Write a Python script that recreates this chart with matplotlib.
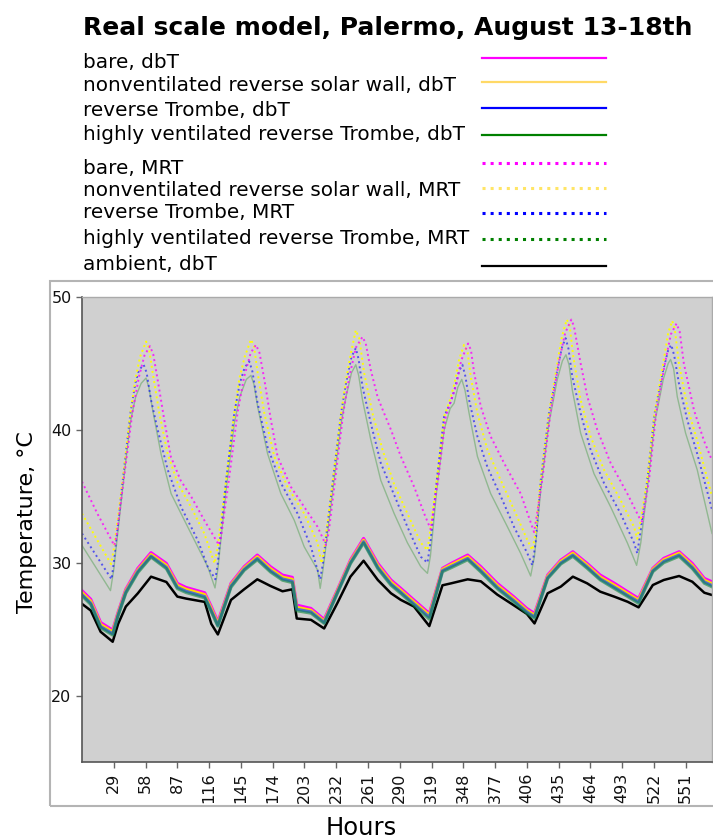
import matplotlib
matplotlib.use("Agg")
import matplotlib.pyplot as plt
from matplotlib.lines import Line2D
from matplotlib.patches import Rectangle

plt.rcParams['font.family'] = ['DejaVu Sans']

# ---------------- data ----------------
title = "Real scale model, Palermo, August 13-18th"
xlabel = "Hours"
ylabel = "Temperature, °C"
xtick_values = list(range(29, 575, 29))
ytick_values = [20, 30, 40, 50]

# dry-bulb temperatures (shared key hours)
hours_dbt = [0, 8, 17, 28, 33, 40, 51, 63, 77, 87, 95, 112, 118, 124, 136, 148, 160, 172, 183, 192,
             196, 209, 221, 233, 245, 257, 270, 282, 291, 303, 317, 329, 337, 352, 364, 379, 394, 406,
             413, 425, 437, 448, 461, 473, 486, 498, 508, 521, 531, 545, 557, 568, 575]
bare_dbt = [27.9, 27.25, 25.5, 24.93, 26.3, 28.0, 29.58, 30.76, 29.95, 28.45, 28.14, 27.74, 26.7, 25.56,
            28.45, 29.7, 30.58, 29.7, 29.07, 28.9, 26.81, 26.56, 25.73, 27.94, 30.2, 31.83, 29.95, 28.7,
            28.07, 27.19, 26.18, 29.58, 29.95, 30.58, 29.7, 28.45, 27.44, 26.56, 26.18, 29.07, 30.2, 30.83,
            29.95, 29.07, 28.45, 27.82, 27.31, 29.58, 30.33, 30.83, 29.95, 28.82, 28.57]
nonvent_dbt = [27.75, 27.1, 25.35, 24.8, 26.2, 27.9, 29.45, 30.62, 29.8, 28.3, 28.0, 27.6, 26.55, 25.42,
               28.35, 29.6, 30.45, 29.55, 28.92, 28.75, 26.65, 26.42, 25.6, 27.85, 30.1, 31.7, 29.8, 28.55,
               27.92, 27.05, 26.05, 29.5, 29.85, 30.45, 29.55, 28.3, 27.3, 26.42, 26.05, 28.98, 30.1, 30.72,
               29.82, 28.92, 28.3, 27.68, 27.18, 29.5, 30.22, 30.72, 29.8, 28.68, 28.42]
trombe_dbt = [27.6, 26.95, 25.2, 24.65, 26.1, 27.8, 29.35, 30.5, 29.65, 28.15, 27.85, 27.45, 26.4, 25.3,
              28.25, 29.5, 30.32, 29.4, 28.78, 28.6, 26.5, 26.3, 25.5, 27.75, 30.0, 31.58, 29.65, 28.4,
              27.78, 26.9, 25.9, 29.4, 29.72, 30.32, 29.4, 28.15, 27.15, 26.3, 25.92, 28.88, 29.98, 30.58,
              29.68, 28.78, 28.15, 27.54, 27.05, 29.4, 30.1, 30.58, 29.66, 28.55, 28.28]
highvent_dbt = [27.5, 26.85, 25.1, 24.55, 26.0, 27.7, 29.25, 30.42, 29.55, 28.05, 27.75, 27.35, 26.3, 25.22,
                28.15, 29.42, 30.22, 29.3, 28.68, 28.5, 26.38, 26.2, 25.43, 27.68, 29.92, 31.48, 29.55, 28.3,
                27.68, 26.8, 25.75, 29.32, 29.62, 30.22, 29.3, 28.05, 27.05, 26.2, 25.82, 28.8, 29.9, 30.48,
                29.58, 28.7, 28.05, 27.45, 26.94, 29.32, 30.0, 30.48, 29.56, 28.45, 28.18]
ambient_dbt = [26.9, 26.4, 24.8, 24.05, 25.4, 26.7, 27.7, 28.95, 28.55, 27.45, 27.3, 27.05, 25.4, 24.6,
               27.2, 28.0, 28.75, 28.25, 27.85, 28.0, 25.8, 25.7, 25.05, 26.95, 28.95, 30.15, 28.7, 27.7,
               27.2, 26.7, 25.23, 28.3, 28.45, 28.75, 28.6, 27.6, 26.8, 26.15, 25.43, 27.7, 28.2, 28.95,
               28.45, 27.82, 27.44, 27.06, 26.64, 28.32, 28.7, 29.0, 28.57, 27.74, 27.57]

# mean radiant temperatures (key points per series)
bare_mrt_hours = [0, 14, 29.5, 31.5, 38, 46, 52, 57, 62, 65, 69, 75, 81, 90, 99.5, 111.6, 125,
                  127, 134, 142, 148, 154, 158.8, 162, 166.4, 172.4, 178.5, 190.7, 202.8, 215, 222.6,
                  225, 231, 238.5, 244, 250, 256, 259, 263.6, 269.7, 274, 282, 291, 303.2, 312.3, 318.3,
                  320, 325, 332, 338, 342, 346, 352.4, 355, 357.9, 364, 373, 385.2, 400.4, 412.6,
                  415, 420, 427.5, 435, 441, 446.6, 449, 455.1, 461.2, 470.3, 482.5, 497.7, 509.8, 511.4,
                  513, 517.5, 524, 532, 537.5, 542.6, 545.5, 549.3, 558.5, 567.6, 575]
bare_mrt = [36.1, 33.7, 31.3, 32.0, 36.2, 41.3, 44.0, 45.6, 46.3, 45.7, 43.8, 40.8, 38.0, 36.2, 35.0, 33.2, 31.33,
            32.0, 36.2, 41.3, 44.0, 45.8, 46.4, 45.8, 43.8, 40.75, 38.0, 35.7, 34.2, 32.7, 31.33,
            32.2, 36.2, 41.3, 44.0, 46.2, 47.0, 46.5, 44.5, 42.5, 41.6, 40.0, 38.0, 35.7, 33.7, 32.5,
            33.5, 36.2, 41.0, 42.5, 43.5, 45.2, 46.5, 46.0, 44.3, 41.75, 39.5, 37.5, 35.2, 32.3,
            33.5, 36.2, 41.25, 45.0, 47.3, 48.3, 47.8, 45.0, 42.5, 40.0, 37.5, 35.2, 33.2, 33.1,
            34.0, 36.2, 41.25, 45.0, 47.2, 48.0, 47.4, 45.0, 41.5, 39.2, 37.7]

nonvent_mrt_hours = [0, 26.5, 29, 37.2, 44.2, 48.7, 53, 58.5, 61, 64.5, 70.6, 78.2, 87.3, 99.5, 111.6, 121,
                     123.5, 131.5, 139, 143.5, 148.5, 154.2, 157, 160.3, 166.4, 175.5, 187.6, 202.8, 215, 218.6,
                     221, 229, 236.5, 241, 245.5, 249.9, 253, 257.5, 265.1, 274.3, 284.9, 297, 309.2, 315.3,
                     318, 323.8, 330.5, 336, 340, 344.2, 348.7, 352, 354.8, 360.9, 370, 382.2, 394.3, 406.5, 411,
                     413.5, 418.7, 426.2, 433.8, 438, 442.4, 445, 448.4, 455.1, 464.2, 476.4, 491.6, 503.8, 506.8,
                     509.5, 515.9, 522.6, 530.5, 535, 538.7, 541, 544.8, 552.4, 561.5, 575]
nonvent_mrt = [33.7, 29.9, 31.0, 36.2, 41.25, 43.8, 45.5, 46.65, 46.2, 44.3, 41.25, 38.2, 36.0, 34.2, 32.2, 29.95,
               31.0, 36.2, 41.25, 43.8, 45.5, 46.8, 46.3, 44.3, 41.25, 38.0, 35.7, 33.7, 31.5, 29.95,
               31.0, 36.2, 41.25, 43.8, 45.8, 47.5, 46.9, 44.3, 41.25, 38.5, 35.9, 33.7, 31.5, 30.95,
               32.5, 36.2, 41.0, 42.3, 43.5, 45.3, 46.4, 45.8, 44.0, 41.25, 38.5, 36.2, 34.0, 31.7, 30.95,
               32.0, 36.2, 41.25, 45.0, 47.0, 48.3, 47.9, 45.5, 42.25, 39.5, 37.0, 34.7, 32.7, 31.8,
               33.0, 36.2, 41.25, 45.0, 47.3, 48.2, 47.6, 45.0, 41.75, 39.2, 35.0]

trombe_mrt_hours = [0, 27, 29, 37.2, 44.2, 48.7, 52, 56.3, 59, 63, 69.1, 78.2, 90.4, 105.6, 114.7, 121.7,
                    124, 131.5, 139, 144, 148.5, 152.7, 155.5, 160.3, 169.4, 181.5, 196.7, 208.9, 217.4,
                    220, 229, 236.5, 241, 246, 249.9, 252.5, 256, 263.6, 272.7, 284.9, 297, 309.2, 315.3,
                    318, 323.8, 330.5, 336, 340, 344, 347.2, 350, 353.3, 360.9, 370, 382.2, 394.3, 406.5, 411,
                    414, 418.7, 426.2, 433.8, 438, 441.4, 444, 447.5, 455.1, 464.2, 476.4, 491.6, 503.8, 506.8,
                    510, 515.9, 522.6, 530.5, 535, 537.8, 540.5, 544.8, 552.4, 561.5, 575]
trombe_mrt = [32.2, 28.75, 30.0, 36.2, 41.25, 43.5, 44.5, 44.9, 44.3, 42.25, 40.0, 37.0, 34.2, 31.7, 29.7, 28.75,
              30.0, 36.2, 41.25, 43.5, 44.7, 45.15, 44.4, 42.0, 38.7, 36.0, 33.7, 31.2, 28.75,
              30.0, 36.2, 41.25, 43.5, 45.5, 46.15, 45.3, 43.25, 40.5, 37.5, 35.1, 32.7, 30.45, 30.0,
              31.5, 36.2, 41.0, 42.0, 43.0, 44.4, 44.9, 44.0, 42.25, 39.5, 37.2, 35.0, 32.7, 30.7, 29.8,
              31.5, 36.2, 41.25, 44.5, 46.2, 46.9, 46.1, 44.0, 41.25, 38.5, 36.0, 33.7, 31.5, 30.7,
              32.5, 36.2, 41.25, 44.5, 46.0, 46.4, 45.6, 43.5, 40.75, 38.2, 34.0]

highvent_mrt_hours = [0, 26, 29, 37, 44, 49, 54, 58.45, 61, 64.5, 72.1, 81.3, 93.4, 105.6, 114.7, 121.4,
                      124, 131.5, 139, 144, 150, 154.2, 157, 160.3, 169.4, 181.5, 193.7, 202.8, 215, 217.4,
                      220, 229, 236.5, 241, 246, 249.9, 252.5, 256, 263.6, 272.7, 284.9, 297, 309.2, 315.3,
                      318, 323.8, 330.5, 336, 339.6, 343, 346.6, 349.5, 353.3, 360.9, 373, 388.3, 400.4, 409.5,
                      413, 418.7, 426.2, 433.8, 438.5, 441.7, 444.5, 447.5, 455.1, 467.3, 482.5, 497.7, 506.2,
                      510, 515.9, 522.6, 530.5, 535, 537.2, 540, 543.3, 550.9, 561.5, 575]
highvent_mrt = [31.3, 27.9, 29.5, 35.5, 40.5, 42.5, 43.5, 43.9, 43.2, 41.5, 38.2, 35.2, 33.2, 31.2, 29.7, 28.1,
                29.5, 35.5, 40.5, 42.5, 43.8, 44.1, 43.4, 41.75, 38.2, 35.2, 33.2, 31.2, 29.45, 28.07,
                29.5, 35.5, 40.5, 42.5, 44.3, 44.9, 44.1, 42.25, 39.25, 36.2, 33.7, 31.5, 29.7, 29.2,
                30.5, 35.5, 40.0, 41.6, 42.0, 43.2, 43.8, 43.0, 41.25, 38.0, 35.2, 32.7, 30.7, 29.0,
                30.5, 35.5, 40.5, 43.8, 45.2, 45.65, 44.9, 43.0, 39.75, 36.7, 34.2, 31.5, 29.8,
                31.5, 35.5, 40.5, 43.8, 45.0, 45.3, 44.6, 42.5, 39.75, 37.0, 32.2]

legend_labels = ["bare, dbT", "nonventilated reverse solar wall, dbT", "reverse Trombe, dbT",
                 "highly ventilated reverse Trombe, dbT", "bare, MRT",
                 "nonventilated reverse solar wall, MRT", "reverse Trombe, MRT",
                 "highly ventilated reverse Trombe, MRT", "ambient, dbT"]

# ---------------- figure ----------------
W, H = 713, 839
fig = plt.figure(figsize=(W / 100, H / 100), dpi=100)

def fx(px):
    return px / W

def fy(py):
    return 1 - py / H

# outer frame
fig.patches.append(Rectangle((fx(49.5), fy(805.5)), 1.2, fy(280.5) - fy(805.5),
                             transform=fig.transFigure, fill=False, edgecolor='#b4b4b4',
                             linewidth=1.5, clip_on=False))

ax = fig.add_axes([fx(82), fy(762), fx(712) - fx(82), fy(297) - fy(762)])
ax.set_facecolor('#d0d0d0')

# MRT (dotted)
ax.plot(highvent_mrt_hours, highvent_mrt, color='green', lw=1.0, alpha=0.3, ls='-')
ax.plot(trombe_mrt_hours, trombe_mrt, color='blue', lw=1.4, alpha=0.6, ls=':')
ax.plot(nonvent_mrt_hours, nonvent_mrt, color='yellow', lw=1.4, ls=':')
ax.plot(bare_mrt_hours, bare_mrt, color='magenta', lw=1.4, alpha=0.8, ls=':')

# dbT (solid)
ax.plot(hours_dbt, ambient_dbt, color='black', lw=1.8)
ax.plot(hours_dbt, bare_dbt, color='magenta', lw=2.2)
ax.plot(hours_dbt, nonvent_dbt, color='#ffd700', lw=2.2)
ax.plot(hours_dbt, trombe_dbt, color='#3050ff', lw=2.2, alpha=0.8)
ax.plot(hours_dbt, highvent_dbt, color='#118a3a', lw=2.2, alpha=0.6)

ax.set_xlim(0, 575)
ax.set_ylim(15, 50)
ax.set_xticks(xtick_values)
ax.set_xticklabels([str(v) for v in xtick_values], rotation=90)
ax.set_yticks(ytick_values)
ax.tick_params(axis='both', direction='out', length=4, width=1, color='#666666',
               labelsize=11.5, labelcolor='#111111')
for side in ['left', 'bottom']:
    ax.spines[side].set_color('#555555')
    ax.spines[side].set_linewidth(1.2)
for side in ['top', 'right']:
    ax.spines[side].set_color('#aaaaaa')
    ax.spines[side].set_linewidth(1.0)

fig.text(fx(27), fy(522), ylabel, rotation=90, ha='center', va='center', fontsize=16)
fig.text(fx(361), fy(828), xlabel, ha='center', va='center', fontsize=17.5)

# title + legend drawn as figure elements
fig.text(fx(83), fy(34.5), title, fontsize=18, fontweight='bold', va='baseline')
text_baselines = [68, 91, 116, 140.5, 173.5, 195.5, 217.5, 243.5, 270]
line_ys = [58, 82.3, 108.3, 134.7, 163.3, 187.7, 213.3, 239.3, 265.7]
leg_colors = ['magenta', '#ffd966', 'blue', 'green', 'magenta', '#ffe566', 'blue', 'green', 'black']
leg_styles = ['-', '-', '-', '-', ':', ':', ':', ':', '-']
for lab, tb, ly, c, ls in zip(legend_labels, text_baselines, line_ys, leg_colors, leg_styles):
    fig.text(fx(83), fy(tb), lab, fontsize=14.4, va='baseline')
    fig.lines.append(Line2D([fx(482), fx(606)], [fy(ly), fy(ly)], transform=fig.transFigure,
                            color=c, lw=1.6 if ls == '-' else 2.2, ls=ls))

fig.savefig('out.png', dpi=100)
